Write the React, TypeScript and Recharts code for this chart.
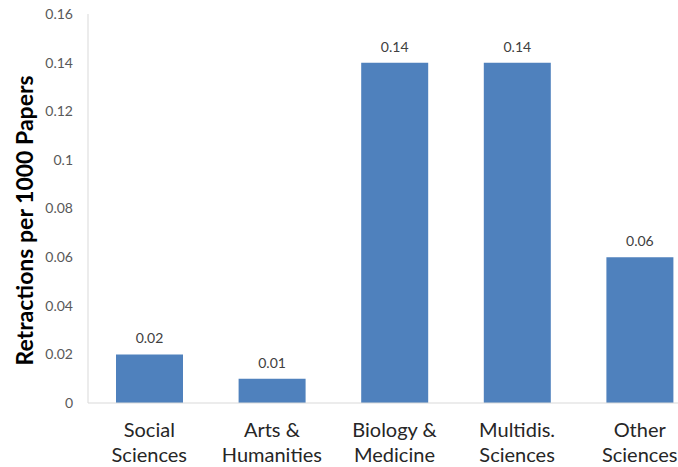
import React from "react"
import { Bar, BarChart, LabelList, XAxis, YAxis } from "recharts"

const fields = [
   "Social Sciences",
   "Arts & Humanities",
   "Biology & Medicine",
   "Multidis. Sciences",
   "Other Sciences",
]
const fieldLines = [
   ["Social", "Sciences"],
   ["Arts &", "Humanities"],
   ["Biology &", "Medicine"],
   ["Multidis.", "Sciences"],
   ["Other", "Sciences"],
]
const retractions = [0.02, 0.01, 0.14, 0.14, 0.06]
const yTicks = [0, 0.02, 0.04, 0.06, 0.08, 0.1, 0.12, 0.14, 0.16]

const data = fields.map((field, i) => ({
   field,
   value: retractions[i],
}))

const FONT = "Lato, 'Open Sans', sans-serif"

// two-line category label under each bar
const FieldTick = (props: any) => {
   const { x, y, payload } = props
   const lines = fieldLines[fields.indexOf(payload.value)] || [payload.value]
   return (
      <text
         x={x}
         y={y}
         textAnchor="middle"
         fill="#262626"
         fontSize={20}
         fontFamily={FONT}
      >
         {lines.map((line: string, i: number) => (
            <tspan key={i} x={x} dy={i === 0 ? 26 : 25}>
               {line}
            </tspan>
         ))}
      </text>
   )
}

export default function App() {
   return (
      <div
         style={{
            position: "absolute",
            left: 0,
            top: 0,
            width: 678,
            height: 467,
            overflow: "hidden",
            background: "#fff",
         }}
      >
         <BarChart
            width={701}
            height={467}
            data={data}
            margin={{ top: 14, right: 0, left: 0, bottom: 0 }}
         >
            <XAxis
               dataKey="field"
               height={64}
               tickLine={false}
               axisLine={{ stroke: "#d9d9d9" }}
               tick={<FieldTick />}
               interval={0}
            />
            <YAxis
               width={88}
               domain={[0, 0.16]}
               ticks={yTicks}
               tickLine={false}
               tickSize={6}
               tickMargin={9}
               axisLine={{ stroke: "#d9d9d9" }}
               tick={{ fill: "#595959", fontSize: 14, fontFamily: FONT }}
               label={{
                  value: "Retractions per 1000 Papers",
                  angle: -90,
                  position: "insideLeft",
                  dx: 20,
                  dy: 12,
                  style: {
                     textAnchor: "middle",
                     fontWeight: 700,
                     fontSize: 23,
                     fontFamily: FONT,
                     fill: "#000",
                  },
               }}
            />
            <Bar
               dataKey="value"
               fill="#4f81bd"
               barSize={67}
               isAnimationActive={false}
            >
               <LabelList
                  dataKey="value"
                  position="top"
                  offset={11}
                  fill="#404040"
                  fontSize={14}
                  fontFamily={FONT}
               />
            </Bar>
         </BarChart>
      </div>
   )
}
